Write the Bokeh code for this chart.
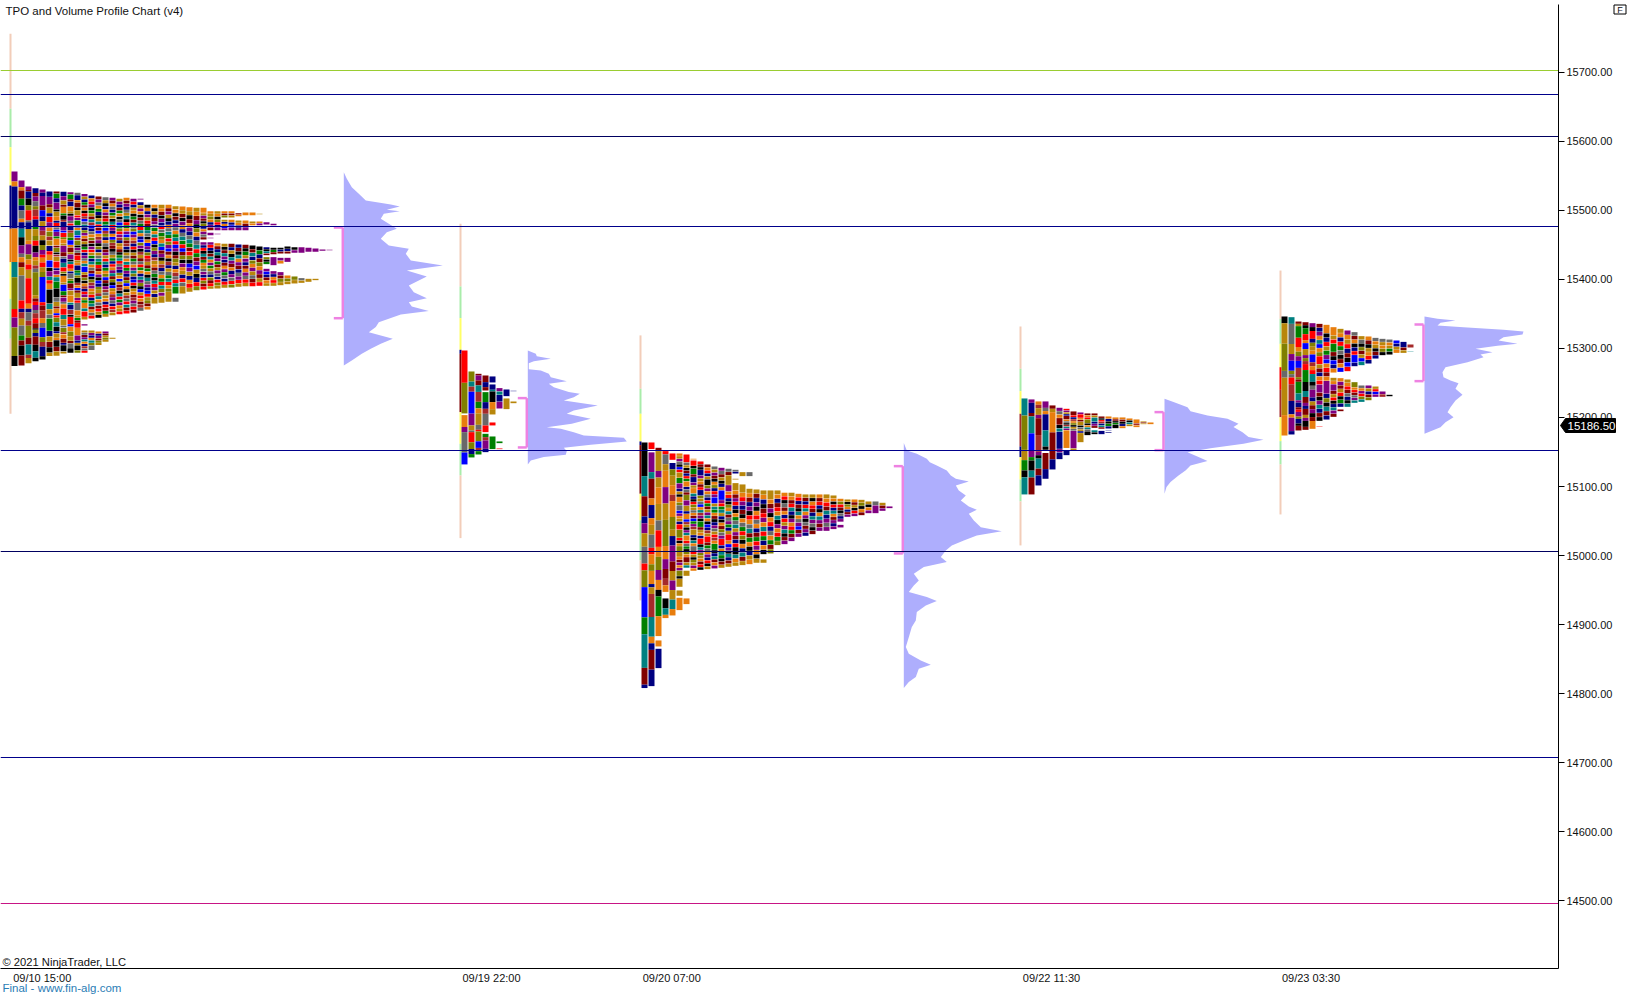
import re
import numpy as np
from bokeh.plotting import figure
from bokeh.layouts import column
from bokeh.core.properties import value
from bokeh.models import Range1d, FixedTicker, NumeralTickFormatter, Label, ColumnDataSource
from bokeh.embed import file_html
from bokeh.resources import INLINE

FONT = "Liberation Sans"
PALETTE = {"k": "#000000", "n": "#000080", "b": "#0000ff", "g": "#008000", "t": "#008080", "o": "#808000",
           "m": "#800000", "r": "#ff0000", "a": "#e87d0d", "p": "#800080", "y": "#696969", "u": "#b8860b",
           "w": "#a52a2a"}
PEACH, PALEGREEN, YELLOW = "#f2cdb9", "#a9ecaa", "#ffff66"
VP_COLOR, VA_COLOR = "#aeaefd", "#ee82e2"

y_ticks = [14500, 14600, 14700, 14800, 14900, 15000, 15100, 15200, 15300, 15400, 15500, 15600, 15700]
x_tick_slots = [41.7, 491, 671.3, 1051, 1310.5]
x_tick_labels = ["09/10 15:00", "09/19 22:00", "09/20 07:00", "09/22 11:30", "09/23 03:30"]
level_prices = [15703, 15667.7, 15606.8, 15476.7, 15151.7, 15005.3, 14707.5, 14495.5]
level_colors = ["#9acd32", "#00008b", "#000060", "#00008b", "#00008b", "#000060", "#00008b", "#c71585"]
last_price = 15186.5

# session start slots on the time axis
s_start = [11, 461, 641, 1021, 1281]

# session range bars: (from price, to price, colour code), top to bottom
s1_range = [(15756, 15647.3, "P"), (15647.3, 15591.8, "G"), (15591.8, 15536.2, "Y"), (15536.2, 15473.4, "n"),
            (15473.4, 15425.1, "a"), (15425.1, 15372, "Y"), (15372, 15314, "G"), (15314, 15205.4, "P")]
s2_range = [(15480.7, 15389.9, "P"), (15389.9, 15344, "G"), (15344, 15298.1, "Y"), (15298.1, 15292.3, "n"),
            (15292.3, 15207.8, "m"), (15207.8, 15161.9, "Y"), (15161.9, 15116, "G"), (15116, 15025.2, "P")]
s3_range = [(15319, 15241.6, "P"), (15241.6, 15205.4, "G"), (15205.4, 15165.3, "Y"), (15165.3, 15160, "n"),
            (15160, 15089.5, "m"), (15089.5, 15050.8, "Y"), (15050.8, 14992.8, "G"), (14992.8, 14934.9, "P")]
s4_range = [(15331.9, 15270.6, "P"), (15270.6, 15238.2, "G"), (15238.2, 15205.4, "Y"), (15205.4, 15158, "w"),
            (15158, 15142.6, "n"), (15142.6, 15110.2, "Y"), (15110.2, 15078.4, "G"), (15078.4, 15014.6, "P")]
s5_range = [(15413, 15343, "P"), (15343, 15306.8, "G"), (15306.8, 15272.9, "Y"), (15272.9, 15240, "r"),
            (15240, 15200.5, "w"), (15200.5, 15165.7, "Y"), (15165.7, 15131.9, "G"), (15131.9, 15059.5, "P")]

# TPO blocks: (column, top price, bottom price, letters top to bottom; digit = run length, "." = gap)
s1_tpo = [
 (0, 15556.5, 15274.5, "p6a3n25a20t9o19r5p6o17k6"),
 (1, 15543.5, 15275.4, "p4a2m5g4n3y5a2n4t5k5p5y2a3m3u5y15r5n2w4u4y6g3m3k6m6"),
 (2, 15534.8, 15278.8, "p2m1n4k4o3r6y1n4u7a2p6o3a3r3u5r15a3n2y5w3o7m4t6w2u3"),
 (3, 15532.4, 15281.7, "n3m2p3y3o2w4r2n4g2u4o3r3k4p3a2u3w2y2o14u2m2r2p3y2w3r3m3k1o2n2m5k4t4k2"),
 (4, 15530.4, 15284.1, "p2n2p6m3b4n3u3p3w3u3k3o3p3r2a3r3u3o3b16r2m3w5a3y3b6o3w3n6k2"),
 (5, 15527.5, 15288.5, "n3p4m2u3n2r3p3a2o3w2u3n3r2a3b4k2p3t2r2a3k8t3u3y2g7n3u3m3k3u2"),
 (6, 15527.5, 15289, "m1g2n2p3k1u2a2n1r2y1b1p2g1a3m1o2k1w1u2r3n1p2a1t2g3k4y2u2m1a2b1r1o2t2k2n1u2a1k3m2u2"),
 (7, 15527, 15292.3, "n2p2u2m1a3g1k2w1n2p2b1r2o1a2u1p3m2y1n2t2r2o1k1a3u1b3g2m1p2y1a2r3t2u3y1o2w1a2m2n1k3u1"),
 (8, 15526.6, 15293.3, "p1g2m1n2a2u1k1p2y1r1n2w1o2g1b2a1m2u1p2k1t1r2a1n1y2o1g1m2p1u2a3t1n2w2k1r3b1a2o2u2m1y2k2"),
 (9, 15525.6, 15293.3, "y1n2a1m2k1u2r1p1g2n1a1t2b1w1o2k1p1y1m1r2u1a1n2g1t1o1k2w1a1b1m1u2p1r1y3a2u1g1m1r2a3p2n1u1k2o1"),
 (10, 15524, 15341.6, "p1u1n1g1m1a1k1r1w1b1y1t1n1o1p1a1m1u1k1g1r1n1p1y1a1t1b2u1m1o1k1a1w1n1r1p1u1g1a2t1r2u1"),
 (10, 15335.3, 15332.9, "p"),
 (10, 15326.1, 15293.3, "u1y1m1p1t1a1n1w1y1r1"),
 (11, 15521.7, 15343, "n1a1r1p1k1g1u1m1t1w1b1n1y1a1o1m1k1p1r1u1g1n1t1a1y1m1b1k1o1w1p1a1u1r1n1g1t1m1a1y1r1"),
 (11, 15326.1, 15297.2, "u1p1n1a1t1o1y2"),
 (12, 15520.3, 15344, "m1p1y1a1g1n1k1u1t1r1m1b1a1w1p1k1o1n1u1y1t1g1r1m1a1p1k1b1n1o1u1w1t1a1y1m1r1u1k1"),
 (12, 15324.7, 15304.6, "a1n1p1m1o1u1"),
 (13, 15519.3, 15345.5, "y1u1k1n1a1p1m1r1g1t1b1w1o1n1a1y1k1m1p1u1r1t1n1g1a1o1b1m1k1p1w1y1u1a1n1r1m1g1u1"),
 (13, 15324.7, 15309.2, "p1m1u1o1u1"),
 (14, 15518.4, 15347.9, "p1m1a1y1n1g1u1k1t1r1p1n1a1b1o1w1m1k1y1u1g1n1r1a1p1t1m1o1k1b1u1a1w1p1y1n1r1w1u1"),
 (14, 15315.5, 15313.5, "u"),
 (15, 15516.9, 15349.3, "u1p1n1m1g1a1k1y1b1t1o1r1p1w1n1u1a1m1k1g1t1r1y1p1n1o1a1b1u1m1w1k1t1r1g1p1a1u1r1"),
 (16, 15518.4, 15350.3, "a1m1p1n1y1u1t1k1r1g1a1p1b1o1m1w1n1k1u1y1a1t1r1g1p1n1m1o1b1a1k1u1w1y1r1t1m1r1"),
 (17, 15516.9, 15351.7, "p1r1n1u1a1k1g1m1t1y1o1b1p1a1w1n1r1k1u1m1g1y1a1p1t1o1n1b1r1k1u1a1m1w1p1y1r1m1"),
 (18, 15516.9, 15515.5, "p"),
 (18, 15512, 15354.2, "n1u1p1a1k1m1y1g1r1t1a1n1b1o1p1k1w1u1m1y1r1g1a1n1t1p1o1k1b1u1r1a1m1w1y1"),
 (19, 15508.2, 15356, "k1a1n1p1u1r1m1g1t1y1k1a1b1p1n1o1r1w1u1m1g1a1k1t1y1p1n1b1r1u1o1m1a1"),
 (20, 15508.2, 15364.8, "a1k1u1n1m1p1y1g1a1t1r1b1k1o1p1n1w1u1a1m1y1g1k1t1r1p1u1n1u2"),
 (21, 15508.2, 15365.7, "u1a1m1k1p1n1r1y1g1o1a1t1b1m1p1k1u1w1n1y1a1g1r1t1o1p1u2"),
 (22, 15508.2, 15367.2, "a1m1p1u1k1n1a1y1t1g1r1o1p1b1m1a1k1w1n1u1y1g1t1r1a1o1u3"),
 (23, 15506.3, 15379.3, "u1a1k1m1n1p1y1a1g1t1r1b1p1k1m1o1u1n1a1w1y1r1t1g2"),
 (23, 15373.5, 15367.2, "y"),
 (24, 15505.8, 15379.3, "a1u1m1k1p1a1n1y1t1g1r1b1m1o1k1p1a1u1n1r1y1u2"),
 (25, 15504.8, 15381.7, "a1u1k1m1a1p1n1y1t1g1m1r1o1k1b1p1u1n1a1r1u1"),
 (26, 15503.9, 15384.1, "u1a1m1p1k1o1a1n1y1t1r1g1m1p1b1u1k1n1r1o1"),
 (27, 15503.9, 15457.5, "a2u1p1m1k1o1n1a1p1y1m1"),
 (27, 15454.1, 15385.1, "p1n1r1k1t1m1g1a1u1y1p1n1r1o1m1r1"),
 (28, 15499, 15471, "a1u1o1a1n1p1m1"),
 (28, 15467.6, 15463.8, "p"),
 (28, 15460.4, 15459.4, "p"),
 (28, 15454.1, 15386, "p1r1n1k1m1t1a1p1g1u1y1n1o1m1r1u1"),
 (29, 15499, 15471, "u1a1k1o1r1n1p1"),
 (29, 15466.2, 15465.2, "p"),
 (29, 15452.7, 15386.5, "a1m1n1t1k1p1g1m1u1p1y1n1r1o1u1"),
 (30, 15499, 15489.4, "a1m1o1"),
 (30, 15486.5, 15471, "u1n1a1b1p1"),
 (30, 15451.7, 15387.5, "u1k1m1t1p1n1m1a1p1g1y1n1r1u1"),
 (31, 15499, 15489.4, "a1m1u1"),
 (31, 15486.5, 15471, "a1n1b1p1"),
 (31, 15451.7, 15388, "m1n1u1k1t1p1m1a1n1p1y1r1o1"),
 (32, 15496.1, 15491.3, "m1a1"),
 (32, 15485.5, 15471, "u1a1n1p1"),
 (32, 15450.7, 15388.9, "n1m1k1t1a1p1m1n1y1p1r1u1"),
 (33, 15497.1, 15492.8, "a"),
 (33, 15485.5, 15471, "a1m1p1"),
 (33, 15450.3, 15389.9, "m1k1g1u1p1n1m1a1p1y1r1u1"),
 (34, 15497.1, 15492.8, "a"),
 (34, 15484.1, 15478.3, "u1a1"),
 (34, 15449.3, 15389.9, "k1m1t1n1o1a1p1u1y1m1r1"),
 (35, 15495.2, 15494.2, "u"),
 (35, 15484.1, 15478.3, "a1p1"),
 (35, 15447.8, 15390.4, "k1g1n1m1o1a1p1m1u1r1"),
 (36, 15483.1, 15479.2, "p"),
 (36, 15446.9, 15434.8, "n1k1t1m1"),
 (36, 15432.4, 15421.8, "o1k1g1"),
 (36, 15415.5, 15390.4, "p1b1n1m1a1u1"),
 (37, 15480.7, 15478.3, "p"),
 (37, 15445.9, 15436.3, "k1g1m1"),
 (37, 15432.4, 15420.3, "p2"),
 (37, 15412.1, 15390.4, "p1n1a1r1u1"),
 (38, 15445.9, 15437.2, "k1n1m1"),
 (38, 15431.4, 15422.7, "p1a1"),
 (38, 15410.7, 15391.3, "p1m1o1u1"),
 (39, 15447.8, 15437.2, "k1n1m1"),
 (39, 15431.4, 15425.1, "p"),
 (39, 15405.8, 15392.8, "a1o1u1"),
 (40, 15446.9, 15438.2, "k1p1"),
 (40, 15404.4, 15393.8, "o1u1"),
 (41, 15446.9, 15438.2, "p"),
 (41, 15402, 15394.7, "y1u1"),
 (42, 15445.9, 15439.6, "p"),
 (42, 15401, 15396.2, "u"),
 (43, 15445, 15439.6, "p"),
 (43, 15401, 15398.6, "u"),
 (44, 15443.5, 15441.1, "p"),
 (45, 15443, 15442, "p"),
]
s2_tpo = [
 (0, 15297.1, 15132, "r19o18.1a7p3y12b7"),
 (1, 15266.7, 15142.1, "o6t3w3b13p7u3y1r6o4n3g2"),
 (2, 15263.3, 15146.4, "m1p3m3t4w6g4a3u7y3r1o6b4w2g2"),
 (3, 15260.9, 15149.8, "m4n3m2.1g6n4w3y7r4.1g2w2p5n2"),
 (4, 15259.5, 15250.8, "n"),
 (4, 15247.9, 15204.4, "n3t1k6a4u3"),
 (4, 15192.8, 15188.5, "r"),
 (4, 15172.5, 15154.2, "g"),
 (5, 15242.6, 15212.6, "p2t2n4p4"),
 (5, 15165.3, 15162.4, "g"),
 (5, 15155.1, 15153.7, "r"),
 (6, 15240.6, 15230.5, "n"),
 (6, 15227.6, 15211.7, "u"),
 (7, 15238.7, 15237.7, "n"),
 (7, 15223.2, 15220.3, "u"),
]
s3_tpo = [
 (0, 15163.8, 14807.9, "k10t6m6n2p3u4y5r2o5b9g5t10m5n1"),
 (1, 15163.8, 14810.7, "r2.1p6t2m6a2n4a2u3y4r2a3o2a4n1u2w7t6a2n2m6n5"),
 (2, 15156.1, 14883.2, "m1u6p2u3a5u5y3r5a3o4p3a3k2g6a6"),
 (2, 14876.9, 14868.2, "a"),
 (2, 14864.8, 14836.8, "n"),
 (3, 15151.3, 14909.3, "r1y3u2a5p5u5o8a4p3m3w2a2.2k3t2a1"),
 (4, 15147.9, 14913.1, "r2.1n2o2u3a3w2a5o4u2n3p5m3u3p3u3t3a2"),
 (5, 15147.9, 14954.2, "a1u1p1y1k1b1r1u2g2p2n1u1k1a2o1y2b1p1a1u1n1r2o3r1k1a1o2u2a1m1p1a1p1o2k1u3"),
 (5, 14949.4, 14941.2, "u"),
 (5, 14938.7, 14920.4, "a"),
 (6, 15146.4, 14970.1, "r3y1u1k1m1n1r1g1a2n1y1m1o2p2u2n1a2b1w1u1k1p1t1a2r1y1g1k1o1a1m2u1t1.1u2"),
 (6, 14937.8, 14929.1, "a"),
 (7, 15140.2, 15138.7, "a"),
 (7, 15137.7, 14977.4, "r2k1g2m1n2p1u1a2t1n1k1r1o1u1y1a1m1b1g1p1w1u2n1k1t1a1y2r1u1k1o1u1p1a1"),
 (8, 15136.3, 14978.8, "r1m1k1n2p1u1a1m1r1n2o1u1y1b1a1t1w1p1k1g2m1u1a1n1r2k1t1p1o1u1a1m1r1k1"),
 (9, 15131.9, 14979.8, "m1a1r1n1u1k2o1p1a1y1n1r1g1m1u1p1t1a1k1b1n1w1u1r2m1g1y1a1p1n1r1k1u1"),
 (10, 15129, 14980.8, "y1u1p1m1k1a1o1n1r1p1b2u1t1g1a1m1k1n1p1y1u1r1w1a1g2k1n1t1m1a1p1"),
 (11, 15127.1, 14981.7, "p1y1m1u1k1n1a1b3p1r1g1t1u1n1k1a1m1o1y1p1r2n1a1t1g1k1m1u1"),
 (12, 15125.7, 14983.2, "y1m1u3p2a1r1n1k1o1a1t1m1y1p1g1n1u1r2a1b1p1k1t1n1m1u1"),
 (13, 15124.2, 15118.4, "y1n1"),
 (13, 15111.2, 15109.7, "u"),
 (13, 15104.9, 14984.6, "u2a1m1p1r1n1k1a1g1y1t1u1p1m1n1r1k2t1a1u1"),
 (14, 15120.8, 15114.6, "u"),
 (14, 15103, 14985.6, "u2a1r1p1n1m1k1a1y1g1r1o1k1a1n1t1m1u1"),
 (15, 15120.8, 15114.6, "y"),
 (15, 15096.7, 14987, "u1a1m1n1p1k1r1a1y1t1m1g1a1k1n1u1a1"),
 (16, 15095.7, 14989, "u1m1n1p1k1a1r1y1a1n1m1g1r1p1a1k1u1"),
 (17, 15094.3, 15001.5, "u1a1n1k1m1r1p1a1t1r1g1n1a1k1"),
 (17, 14994.3, 14989, "u"),
 (18, 15094.3, 15002.5, "u2a1m1p1k1a1r1n1y1a1g1m1o1"),
 (19, 15094.3, 15014.6, "u1a1n1m1r1a1t1k1p1a1r1g1o1"),
 (20, 15091, 15016, "a1r1k1y1m1a1n1r1u1p1t1k1m1p1"),
 (21, 15091, 15020.4, "u1a1m1r1t1n1k1p1a1r1g1m1p1"),
 (22, 15089.4, 15026.6, "a1r1n1m1k1t1a1y1p1b1m1p1"),
 (23, 15088.5, 15028.1, "u1m1n1r1t1a1p1k1y1m1p1n1"),
 (24, 15088.5, 15030.5, "u1k1a1r1m1n1t1p1y1k1m1"),
 (25, 15088.5, 15035.3, "a1m1r1n1k1a1t1p1m1p1"),
 (26, 15088.5, 15035.3, "u1a1r1m1t1n1p1y1p1"),
 (27, 15087, 15037.8, "u1a1k1r1n1t1a1m1p1n1p1"),
 (28, 15082.2, 15040.2, "a1o1r1m1k1y1n1p1.1p1"),
 (29, 15081.2, 15055.6, "u1k1o1a1n1m1p1"),
 (30, 15081.2, 15056.6, "a1m1u1k1r1p1"),
 (31, 15080.7, 15058, "u1o1k1a1m1"),
 (32, 15078.3, 15060.9, "u1k1a1p1"),
 (33, 15078.3, 15060.9, "y1p2"),
 (34, 15076.4, 15064.3, "u1m1p1"),
 (35, 15071.1, 15068.2, "p"),
]
s4_tpo = [
 (0, 15227.6, 15088.5, "t5o10u3g3k2t5"),
 (1, 15226.2, 15088.5, "p1n3m1t5b5p2g1k3t2m5"),
 (2, 15223.3, 15101.5, "a1w1u2p1m5w5p1k1t3m2n3"),
 (3, 15223.3, 15111.2, "p2y1a1n5t5k1.1m5n3"),
 (4, 15217.5, 15124.7, "m1u1a6m8n3"),
 (5, 15214.1, 15139.2, "p1y1a1m2k1t1n5p1n2"),
 (6, 15212.6, 15145, "r1p1u1n1m2a1y1k1w1t1p1a10.1n3"),
 (7, 15208.8, 15152.2, "m2r1n1w1a1o1k1u1y1p9u1"),
 (8, 15207.3, 15163.8, "p1r2a1m1u2k1y1u1n1u5"),
 (9, 15205.9, 15174, "m1a1r1o2k1a1t1y1k2"),
 (10, 15205.9, 15175.4, "m1u1t2n1p1m1.1t1k1"),
 (11, 15201.5, 15175.4, "m1k1r1w1n1t1m1.1n2"),
 (12, 15201.5, 15183.6, "a1n1k1g1n1"),
 (12, 15181.2, 15180.3, "n"),
 (12, 15178.8, 15177.4, "n"),
 (13, 15200.1, 15184.1, "a1m1k1g1k2"),
 (14, 15200.1, 15184.1, "a1m1k1n1a1"),
 (15, 15198.6, 15187, "a1k1t1u1"),
 (16, 15197.2, 15185.6, "a2w1a1"),
 (17, 15194.3, 15189.9, "u1m1u1"),
 (18, 15192.8, 15189.9, "a"),
]
s5_tpo = [
 (0, 15346.4, 15173.9, "k2u6o8y2u11a6"),
 (1, 15345.4, 15175.4, "t2y6u3p2b3o1y1r2w5n4a1p4n1"),
 (2, 15339.1, 15181.2, "m1u1g5r4a2o2p2b3w4o1m1g5t3p1n2m1r1p2o1n2k1m2"),
 (3, 15338.1, 15182.1, "m1k1g2r2a1b2u2p1o1w1r2g4k3t2m2p1n1m2u1p1k2m1"),
 (4, 15336.7, 15183.6, "p1k1r2n1o1u1a1b2w1a1r1t2k1y1p2n1u1m1p1k1m1a2"),
 (5, 15335.7, 15194.7, "m1n1p1a1t1b1a1o1r2u1m1n1a1r1p2m1k1p1t1n1m1k1"),
 (5, 15187, 15186, "r"),
 (6, 15334.3, 15196.6, "a2k1n1r1u1g1p1b1a1r1m1a1p3n1o1k1t1m1n1"),
 (7, 15330.9, 15264.7, "a2u1r1g2m1k1b1n1a1"),
 (7, 15257.5, 15200.5, "u1a1p2m1u1r1k1n1t1p1m1"),
 (8, 15328.5, 15265.7, "u1a1n1r1g1y1k1m1a1b1"),
 (8, 15257, 15215, "a1p1m1u1r1k1g1n1"),
 (8, 15211.6, 15208.7, "m"),
 (9, 15326.1, 15266.7, "p1a1u1r1n1m1k1b1r1"),
 (9, 15255.1, 15215, "u1a1r1m1y1n1k1t1"),
 (10, 15323.7, 15273.9, "y1m1a1k1n1r1b2n1"),
 (10, 15251.2, 15220.8, "o2a1r1m1y1p1t1"),
 (11, 15317.9, 15275.4, "u1y1k1o1m1u1b1t1"),
 (11, 15246.4, 15222.2, "y1a1p1r1o1t1"),
 (12, 15317.4, 15277.8, "a1m1k1u1a1r1n1"),
 (12, 15246.4, 15224.6, "p1u1n1m1o1"),
 (13, 15315.4, 15285, "y1a1u1k1m1n1"),
 (13, 15244.9, 15229.5, "u1r1b1p1"),
 (14, 15314, 15289.9, "y1u1a1o1k1"),
 (14, 15237.7, 15229.5, "p1w1"),
 (15, 15313, 15290.8, "y1a1u1g1k1"),
 (15, 15232.9, 15230.4, "k"),
 (16, 15311.6, 15293.2, "b1n1u1a1"),
 (17, 15309.6, 15293.2, "n2m1u1"),
 (18, 15305.8, 15301, "w"),
 (18, 15295.6, 15294.7, "t"),
]

# volume profiles, top to bottom
s1_vp_price = [15555.6, 15545.9, 15533.8, 15524.2, 15514.5, 15512.1, 15508.7, 15505.8, 15501, 15499, 15495.2, 15487.9, 15480.7,
               15473.4, 15468.6, 15458.9, 15449.3, 15444.5, 15437.2, 15427.6, 15420.3, 15413.1, 15404.4, 15396.2, 15391.3,
               15381.7, 15373, 15367.2, 15360.9, 15354.2, 15349.3, 15338.2, 15331, 15323.7, 15314, 15306.8, 15299.5, 15292.3,
               15282.6, 15275.4]
s1_vp_vol = [0, 3, 8, 15, 22, 33, 47, 56, 43, 56, 40, 37, 45, 53, 43, 37, 45, 65, 62, 67, 99, 63, 83, 72, 65, 70, 83, 65, 68, 85,
             57, 35, 32, 25, 49, 37, 27, 18, 8, 0]
s2_vp_price = [15297.1, 15292.3, 15288.9, 15285.1, 15281.7, 15278.8, 15270.1, 15268.2, 15263.3, 15258.5, 15252.7, 15248.8,
               15244, 15236.8, 15234.4, 15229.5, 15224.7, 15217.4, 15210.2, 15205.4, 15198.1, 15190.9, 15186, 15183.6, 15178.8,
               15174, 15170.6, 15165.3, 15160.5, 15156.1, 15151.3, 15146, 15142.6, 15137.8, 15132]
s2_vp_vol = [0, 8, 9, 23, 6, 1, 1, 13, 21, 23, 39, 21, 26, 41, 52, 46, 36, 70, 46, 39, 63, 44, 19, 33, 46, 56, 96, 99, 63, 36, 39,
             38, 16, 3, 0]
s3_vp_price = [15162.9, 15152.2, 15147.4, 15140.2, 15135.3, 15130.5, 15123.2, 15116, 15111.2, 15107.3, 15101.5, 15094.3, 15087,
               15079.8, 15071.1, 15066.3, 15060.5, 15050.8, 15041.1, 15035.3, 15029.1, 15021.8, 15014.6, 15007.3, 14997.7,
               14990.4, 14983.2, 14973.5, 14963.9, 14956.6, 14947, 14939.7, 14933.9, 14927.6, 14918, 14905.9, 14896.2, 14881.7,
               14867.3, 14857.6, 14847.9, 14841.7, 14835.9, 14823.8, 14816.6, 14807.8]
s3_vp_vol = [0, 3, 13, 23, 26, 33, 43, 47, 52, 65, 52, 55, 62, 57, 65, 73, 65, 70, 77, 98, 73, 60, 48, 42, 37, 43, 20, 10, 15, 10,
             5, 23, 33, 22, 13, 12, 8, 5, 2, 5, 17, 27, 15, 12, 5, 0]
s4_vp_price = [15227.1, 15222.3, 15215, 15209.2, 15203, 15198.1, 15190.9, 15186.1, 15178.8, 15171.6, 15167.7, 15161.9, 15155.6,
               15149.8, 15142.6, 15136.8, 15130.5, 15123.3, 15116, 15106.4, 15099.1, 15089.5]
s4_vp_vol = [0, 9, 23, 26, 43, 63, 74, 69, 78, 84, 99, 79, 46, 23, 34, 43, 26, 21, 14, 6, 2, 0]
s5_vp_price = [15346.4, 15343, 15340.6, 15337.2, 15333.3, 15330.9, 15327, 15324.6, 15320.3, 15316.4, 15311.6, 15306.8, 15303.9,
               15299.5, 15294.7, 15291.3, 15287.4, 15280.2, 15272.9, 15265.7, 15258.4, 15253.6, 15249.8, 15241.5, 15232.9,
               15224.6, 15215, 15207.7, 15200.5, 15193.2, 15186, 15176.3]
s5_vp_vol = [0, 13, 31, 16, 13, 39, 79, 99, 98, 79, 74, 93, 73, 51, 68, 56, 59, 43, 21, 18, 19, 26, 34, 31, 38, 31, 26, 23, 29, 21,
             16, 0]
vp_start = [343.3, 527.3, 903.3, 1164, 1424]
# value area high / low of each session
va_high = [15475.4, 15228.1, 15129.5, 15207.8, 15334.8]
va_low = [15343.9, 15156.6, 15003, 15152.7, 15252.7]

COLW, STEP = 6, 7
HAIR = 0.45  # white hairline under the thin cells, in price points
p = figure(width=1627, height=994, output_backend="svg", toolbar_location=None, y_axis_location="right",
           x_range=Range1d(0, 1558), y_range=Range1d(14401.45, 15798.55),
           min_border_left=0, min_border_right=69, min_border_top=4, min_border_bottom=26,
           outline_line_color=None, background_fill_color="white", frame_align=False)
p.grid.visible = False

# axes
ya = p.yaxis[0]
ya.ticker = FixedTicker(ticks=y_ticks)
ya.formatter = NumeralTickFormatter(format="0.00")
ya.major_tick_out, ya.major_tick_in, ya.minor_tick_out, ya.minor_tick_in = 6, 0, 0, 0
ya.major_label_standoff = 2
ya.major_label_text_font = FONT
ya.major_label_text_font_size = "11px"
ya.major_label_text_color = "#111111"
ya.axis_line_color = "black"
xa = p.xaxis[0]
xa.ticker = FixedTicker(ticks=x_tick_slots)
xa.major_label_overrides = dict(zip(x_tick_slots, x_tick_labels))
xa.major_tick_out, xa.major_tick_in, xa.minor_tick_out, xa.minor_tick_in = 0, 0, 0, 0
xa.major_label_standoff = 3
xa.major_label_text_font = FONT
xa.major_label_text_font_size = "11px"
xa.major_label_text_color = "#111111"
xa.axis_line_color = "black"

# session range bars
L, R, T, B, C = [], [], [], [], []
CODEC = dict(PALETTE, P=PEACH, G=PALEGREEN, Y=YELLOW)
for x0, rng in zip(s_start, [s1_range, s2_range, s3_range, s4_range, s5_range]):
    for hi, lo, c in rng:
        L.append(x0 - 2); R.append(x0); T.append(hi); B.append(lo); C.append(CODEC[c])
p.quad(left=L, right=R, top=T, bottom=B, fill_color=C, line_color=None)

# TPO columns
L, R, T, B, C = [], [], [], [], []
for x0, blocks in zip(s_start, [s1_tpo, s2_tpo, s3_tpo, s4_tpo, s5_tpo]):
    for col, hi, lo, code in blocks:
        runs = [(ch, int(n) if n else 1) for ch, n in re.findall(r"([a-z.])(\d*)", code)]
        total = sum(n for _, n in runs)
        used = 0
        for ch, n in runs:
            if ch != ".":
                L.append(x0 + STEP * col)
                R.append(x0 + STEP * col + COLW)
                top = hi - (hi - lo) * used / total
                bot = hi - (hi - lo) * (used + n) / total
                T.append(top)
                B.append(bot + HAIR if col >= 5 and top - bot > 1.5 * HAIR else bot)
                C.append(PALETTE[ch])
            used += n
src = ColumnDataSource(dict(left=L, right=R, top=T, bottom=B, color=C))
p.quad(left="left", right="right", top="top", bottom="bottom", fill_color="color", line_color=None, source=src)

# volume profiles
for x0, pr, vol in zip(vp_start, [s1_vp_price, s2_vp_price, s3_vp_price, s4_vp_price, s5_vp_price],
                       [s1_vp_vol, s2_vp_vol, s3_vp_vol, s4_vp_vol, s5_vp_vol]):
    p.patch(x=list(x0 + np.array(vol)), y=pr, fill_color=VP_COLOR, line_color=None)

# value area brackets
for x0, hi, lo in zip(vp_start, va_high, va_low):
    p.segment(x0=[x0 - 1, x0 - 10, x0 - 10], y0=[hi, hi, lo], x1=[x0 - 1, x0 - 1, x0 - 1], y1=[lo, hi, lo],
              line_color=VA_COLOR, line_width=2.5)

# horizontal levels
p.hspan(y=level_prices, line_color=level_colors, line_width=1.2)

# annotations inside the frame (screen y counts up from the frame's bottom edge)
def note(text, x, y, color="#111111", size="11px"):
    p.add_layout(Label(x=x, y=968 - y, x_units="screen", y_units="screen", text=text, text_font=FONT, text_font_size=size,
                       text_color=color, text_baseline="middle"))

note("TPO and Volume Profile Chart (v4)", 5, 10, size="11.5px")
note("© 2021 NinjaTrader, LLC", 2, 961, size="11.2px")

# transparent pixel-scale overlay for what lies outside the main frame
ov = figure(width=1627, height=994, output_backend="svg", toolbar_location=None,
            x_range=Range1d(0, 1627), y_range=Range1d(994, 0), x_axis_location=None, y_axis_location=None,
            min_border_left=0, min_border_right=0, min_border_top=0, min_border_bottom=0,
            outline_line_color=None, background_fill_alpha=0, border_fill_alpha=0, frame_align=False)
ov.grid.visible = False
ov.styles = {"position": "absolute", "left": "0px", "top": "0px"}
ov.patch(x=[1560, 1565, 1615, 1615, 1565], y=[425, 418, 418, 432, 432], fill_color="black", line_color="black")
ov.text(x=[1567], y=[425.5], text=[f"{last_price:.2f}"], text_color="white", text_font=value(FONT),
        text_font_size="11.5px", text_baseline="middle", text_align="left")
ov.quad(left=[1613.5], right=[1625.5], top=[4.5], bottom=[13.5], fill_color=None, line_color="black", line_width=1)
ov.text(x=[1619.5], y=[9.5], text=["F"], text_color="#111111", text_font=value(FONT), text_font_size="9px",
        text_baseline="middle", text_align="center")
ov.text(x=[2], y=[987], text=["Final - www.fin-alg.com"], text_color="#2b7db5", text_font=value(FONT),
        text_font_size="11.5px", text_baseline="middle", text_align="left")

open("out.html", "w").write(file_html(column(p, ov), INLINE))
